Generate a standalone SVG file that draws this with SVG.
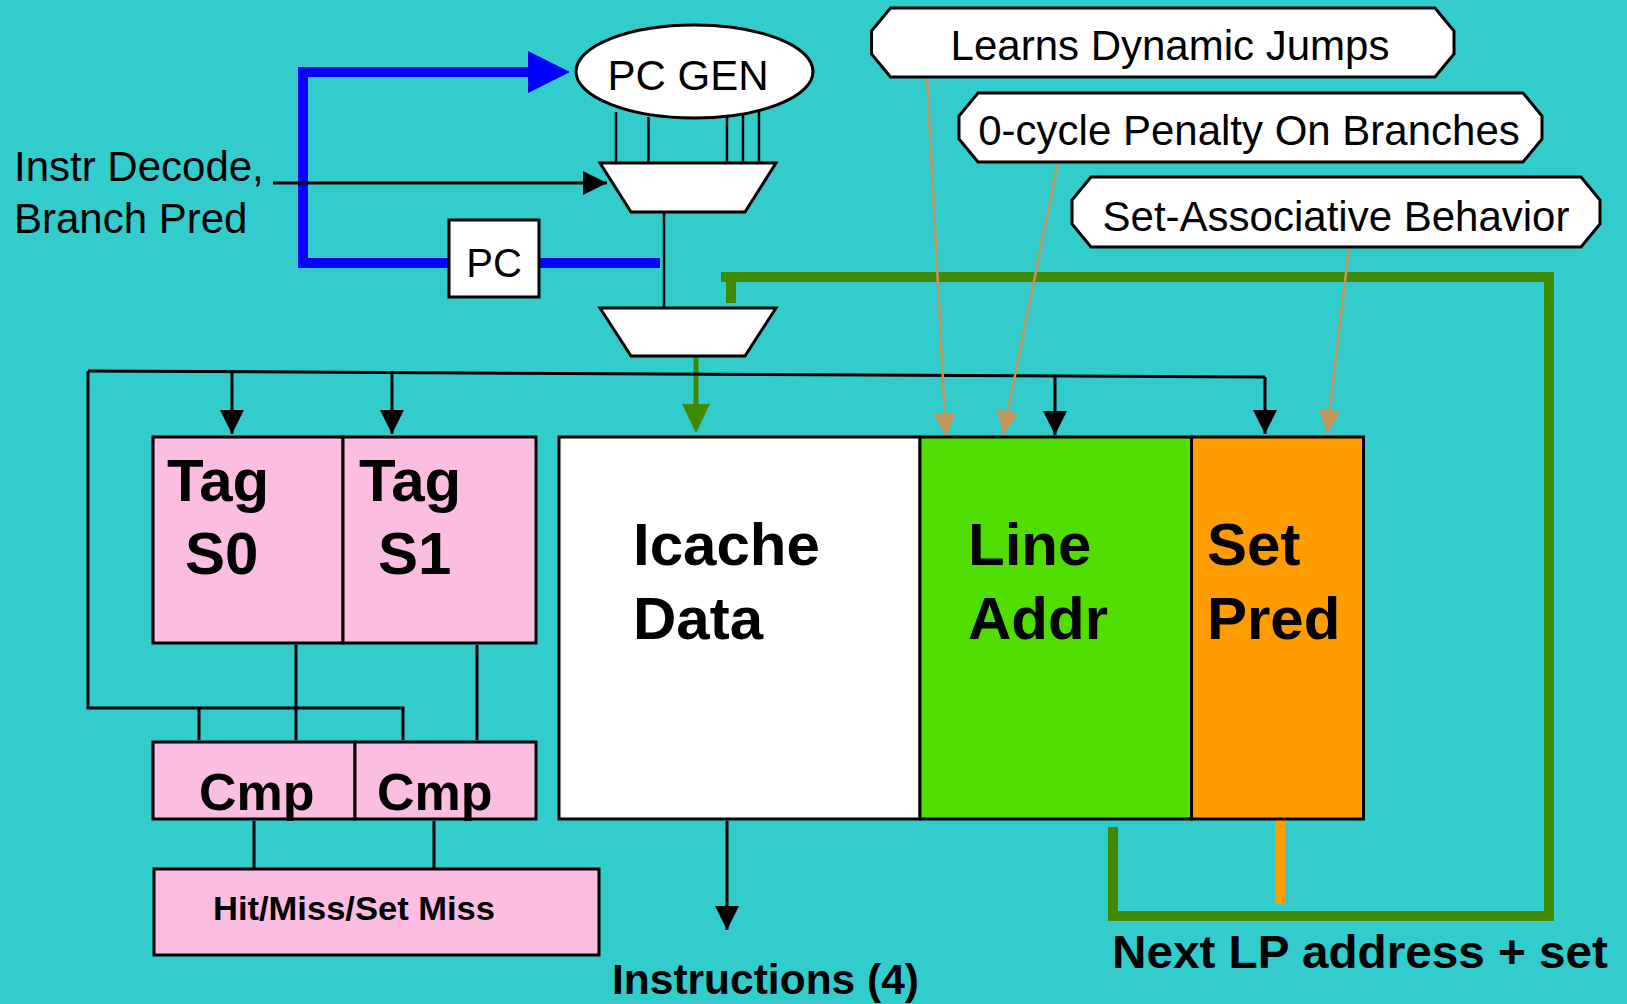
<svg xmlns="http://www.w3.org/2000/svg" width="1627" height="1004" viewBox="0 0 1627 1004">
<style>
.ln{fill:none;stroke:#000;stroke-width:3}
.thin{fill:none;stroke:#000;stroke-width:2.5}
.box{stroke:#000;stroke-width:3}
.pink{fill:#FBBDE1}
.tan{fill:none;stroke:#C3955A;stroke-width:2.5}
.dg{fill:none;stroke:#3F8A00;stroke-width:10}
.t{font-family:"Liberation Sans",Arial,sans-serif;fill:#000}
.b{font-family:"Liberation Sans",Arial,sans-serif;font-weight:bold;fill:#000}
.call{fill:#fff;stroke:#000;stroke-width:3}
</style>
<defs>
<marker id="ab" markerUnits="userSpaceOnUse" markerWidth="24" markerHeight="24" viewBox="0 0 22 22" refX="22" refY="11" orient="auto"><path d="M0,0 L22,11 L0,22 Z" fill="#000"/></marker>
<marker id="at" markerUnits="userSpaceOnUse" markerWidth="24" markerHeight="22" viewBox="0 0 22 20" refX="22" refY="10" orient="auto"><path d="M0,0 L22,10 L0,20 Z" fill="#C3955A"/></marker>
</defs>
<rect width="1627" height="1004" fill="#33CCCC"/>

<g id="connectors">
  <path d="M660,263 H539 M449,263 H303 V72 H530" fill="none" stroke="#0000FF" stroke-width="10"/>
  <polygon points="528,51 570,72 528,93" fill="#0000FF"/>
  <path class="thin" d="M616,112 V163 M648.5,117 V163 M727,116 V163 M743,114 V163 M759,111 V163"/>
  <line class="ln" x1="273" y1="183" x2="607" y2="183" marker-end="url(#ab)"/>
  <line class="thin" x1="664" y1="212" x2="664" y2="308"/>
  <path class="dg" d="M721,277 H1549 V916 H1113 V827"/>
  <path class="dg" d="M731,277 V303"/>
  <line x1="1280" y1="818" x2="1280" y2="904" stroke="#FF9C00" stroke-width="10"/>
  <line x1="696" y1="356" x2="696" y2="406" stroke="#3F8A00" stroke-width="5"/>
  <polygon points="682,404 710,404 696,433" fill="#3F8A00"/>
  <path class="ln" d="M88,371 L1265,377"/>
  <line class="ln" x1="232" y1="372" x2="232" y2="434" marker-end="url(#ab)"/>
  <line class="ln" x1="392" y1="373" x2="392" y2="434" marker-end="url(#ab)"/>
  <line class="ln" x1="1055" y1="376" x2="1055" y2="435" marker-end="url(#ab)"/>
  <line class="ln" x1="1265" y1="377" x2="1265" y2="434" marker-end="url(#ab)"/>
  <path class="ln" d="M88,371 V708 H403 V740 M199,708 V740"/>
  <path class="ln" d="M296,645 V740 M477,645 V740"/>
  <path class="ln" d="M254,821 V869 M434,821 V869"/>
  <line class="ln" x1="727" y1="821" x2="727" y2="930" marker-end="url(#ab)"/>
  <line class="tan" x1="927" y1="77" x2="946" y2="437" marker-end="url(#at)"/>
  <line class="tan" x1="1058" y1="162" x2="1003" y2="435" marker-end="url(#at)"/>
  <line class="tan" x1="1349" y1="247" x2="1327" y2="434" marker-end="url(#at)"/>
</g>

<g id="pcgen">
  <ellipse cx="694.5" cy="71.5" rx="118.5" ry="46.5" fill="#fff" stroke="#000" stroke-width="3"/>
  <text class="t" x="688" y="90" font-size="42" text-anchor="middle">PC GEN</text>
</g>
<g id="mux1"><polygon points="600,163 776,163 745,212 631,212" fill="#fff" class="box"/></g>
<g id="mux2"><polygon points="600,308 776,308 745,356 631,356" fill="#fff" class="box"/></g>
<g id="pc">
  <rect x="449" y="220" width="90" height="77" fill="#fff" class="box"/>
  <text class="t" x="494" y="277" font-size="40" text-anchor="middle">PC</text>
</g>
<g id="instr-label">
  <text class="t" x="14" y="181" font-size="42">Instr Decode,</text>
  <text class="t" x="14" y="233" font-size="42">Branch Pred</text>
</g>
<g id="tag-s0">
  <rect x="153" y="437" width="190" height="206" class="box pink"/>
  <text class="b" x="167" y="501" font-size="60">Tag</text>
  <text class="b" x="185" y="574" font-size="60">S0</text>
</g>
<g id="tag-s1">
  <rect x="343" y="437" width="193" height="206" class="box pink"/>
  <text class="b" x="359" y="501" font-size="60">Tag</text>
  <text class="b" x="378" y="574" font-size="60">S1</text>
</g>
<g id="cmp0">
  <rect x="153" y="742" width="202" height="77" class="box pink"/>
  <text class="b" x="199" y="810" font-size="52">Cmp</text>
</g>
<g id="cmp1">
  <rect x="355" y="742" width="181" height="77" class="box pink"/>
  <text class="b" x="377" y="810" font-size="52">Cmp</text>
</g>
<g id="hitmiss">
  <rect x="154" y="869" width="445" height="86" class="box pink"/>
  <text class="b" x="213" y="920" font-size="34" textLength="282" lengthAdjust="spacingAndGlyphs">Hit/Miss/Set Miss</text>
</g>
<g id="icache-data">
  <rect x="559" y="437" width="361" height="382" fill="#fff" class="box"/>
  <text class="b" x="633" y="565" font-size="60">Icache</text>
  <text class="b" x="633" y="639" font-size="60">Data</text>
</g>
<g id="line-addr">
  <rect x="920" y="437" width="271.5" height="382" fill="#50DD00" class="box"/>
  <text class="b" x="968" y="565" font-size="60">Line</text>
  <text class="b" x="968" y="639" font-size="60">Addr</text>
</g>
<g id="set-pred">
  <rect x="1191.5" y="437" width="172" height="382" fill="#FF9C00" class="box"/>
  <text class="b" x="1207" y="565" font-size="60">Set</text>
  <text class="b" x="1207" y="639" font-size="60">Pred</text>
</g>
<g id="callout-jumps">
  <path class="call" d="M890.5,8 H1435 L1454,31 V54 L1435,77 H890.5 L871.5,54 V31 Z"/>
  <text class="t" x="1170" y="60" font-size="42" text-anchor="middle">Learns Dynamic Jumps</text>
</g>
<g id="callout-penalty">
  <path class="call" d="M978,93 H1523 L1542,116 V139 L1523,162 H978 L959,139 V116 Z"/>
  <text class="t" x="1249" y="145" font-size="42" text-anchor="middle">0-cycle Penalty On Branches</text>
</g>
<g id="callout-set">
  <path class="call" d="M1091,177 H1581 L1600,200 V224 L1581,247 H1091 L1072,224 V200 Z"/>
  <text class="t" x="1336" y="231" font-size="42" text-anchor="middle">Set-Associative Behavior</text>
</g>
<g id="labels">
  <text class="b" x="612" y="994" font-size="42" textLength="307" lengthAdjust="spacingAndGlyphs">Instructions (4)</text>
  <text class="b" x="1112" y="968" font-size="46" textLength="496" lengthAdjust="spacingAndGlyphs">Next LP address + set</text>
</g>
</svg>
